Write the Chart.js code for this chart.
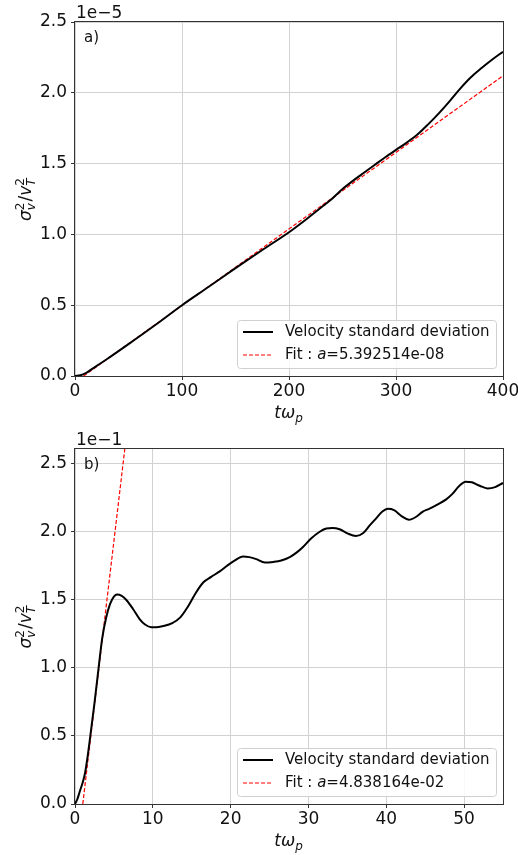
<!DOCTYPE html>
<html>
<head>
<meta charset="utf-8">
<script src="https://cdn.jsdelivr.net/npm/chart.js@4.4.1/dist/chart.umd.min.js"></script>
<style>
  body { margin: 0; background: #fff; width: 518px; height: 855px; overflow: hidden; }
  canvas { position: absolute; left: 0; }
  #chartA { top: 0; }
  #chartB { top: 430px; }
</style>
</head>
<body>
<canvas id="chartA" width="518" height="430"></canvas>
<canvas id="chartB" width="518" height="425"></canvas>
<script>
// --- data (y values shown in units of the axis offset) ---
const timeA = [0, 5, 10, 15, 20, 30, 50, 75, 100, 125, 150, 175, 200, 215, 230, 240, 250, 260, 270, 280, 290, 300, 310, 320, 330, 340, 350, 360, 370, 380, 390, 400];
const sigmaA = [0, 0.005, 0.02, 0.045, 0.07, 0.12, 0.225, 0.36, 0.5, 0.63, 0.762, 0.89, 1.015, 1.10, 1.19, 1.25, 1.32, 1.38, 1.435, 1.49, 1.545, 1.597, 1.648, 1.705, 1.777, 1.855, 1.94, 2.03, 2.11, 2.175, 2.235, 2.29];
const fitTimeA = [8, 400];
const fitA = [0, 2.12];

const timeB = [0, 0.3, 0.6, 1.0, 1.3, 1.6, 1.9, 2.5, 3.0, 3.5, 4.0, 4.5, 5.0, 5.4, 6.0, 6.6, 7.5, 8.3, 9.0, 9.8, 10.5, 11.5, 12.5, 13.5, 14.5, 15.5, 16.5, 17.5, 18.6, 19.5, 20.5, 21.6, 22.4, 23.3, 24.4, 25.5, 26.5, 27.6, 28.5, 29.3, 30.3, 31.4, 32.3, 33.1, 34.0, 35.0, 36.1, 37.0, 37.9, 38.7, 39.5, 40.2, 41.0, 42.0, 42.9, 43.8, 44.7, 45.5, 46.5, 47.7, 48.5, 49.4, 50.2, 51.0, 52.0, 53.0, 54.0, 55.0];
const sigmaB = [0, 0.035, 0.09, 0.16, 0.23, 0.34, 0.47, 0.74, 0.985, 1.22, 1.37, 1.47, 1.525, 1.54, 1.53, 1.50, 1.43, 1.36, 1.32, 1.30, 1.30, 1.31, 1.33, 1.37, 1.45, 1.55, 1.63, 1.67, 1.71, 1.75, 1.79, 1.82, 1.815, 1.80, 1.775, 1.78, 1.79, 1.815, 1.85, 1.89, 1.95, 2.00, 2.025, 2.03, 2.02, 1.99, 1.97, 1.99, 2.05, 2.10, 2.15, 2.17, 2.16, 2.115, 2.09, 2.11, 2.15, 2.17, 2.20, 2.24, 2.28, 2.34, 2.37, 2.365, 2.34, 2.32, 2.33, 2.36];
const fitTimeB = [1.0, 6.4];
const fitB = [0, 2.61];

const yTicks = [0, 0.5, 1.0, 1.5, 2.0, 2.5];
const xTicksA = [0, 100, 200, 300, 400];
const xTicksB = [0, 10, 20, 30, 40, 50];

const FONT = "'DejaVu Sans', sans-serif";

function pts(xs, ys) {
    return xs.map((x, i) => ({ x: x, y: ys[i] }));
}

// draw a run of text pieces; {t} normal, {t, it} italic, {sup, sub} stacked scripts
function mathWidth(ctx, parts, size) {
    let w = 0;
    parts.forEach(p => {
        if (p.t !== undefined) {
            ctx.font = (p.it ? 'italic ' : '') + size + 'px ' + FONT;
            w += ctx.measureText(p.t).width;
        } else {
            ctx.font = 'italic ' + Math.round(size * 0.7) + 'px ' + FONT;
            w += Math.max(ctx.measureText(p.sup || '').width, ctx.measureText(p.sub || '').width) + 1;
        }
    });
    return w;
}

function drawMath(ctx, cx, cy, parts, size) {
    let x = cx - mathWidth(ctx, parts, size) / 2;
    ctx.textBaseline = 'alphabetic';
    ctx.textAlign = 'left';
    const base = cy + size * 0.36;
    parts.forEach(p => {
        if (p.t !== undefined) {
            ctx.font = (p.it ? 'italic ' : '') + size + 'px ' + FONT;
            ctx.fillText(p.t, x, base);
            x += ctx.measureText(p.t).width;
        } else {
            const s = Math.round(size * 0.7);
            let w = 0;
            if (p.sup) {
                ctx.font = s + 'px ' + FONT;
                ctx.fillText(p.sup, x, base - size * 0.42);
                w = ctx.measureText(p.sup).width;
            }
            if (p.sub) {
                ctx.font = 'italic ' + s + 'px ' + FONT;
                ctx.fillText(p.sub, x, base + size * 0.22);
                w = Math.max(w, ctx.measureText(p.sub).width);
            }
            x += w + 1;
        }
    });
}

const yTitle = [{ t: 'σ', it: true }, { sup: '2', sub: 'v' }, { t: '/' }, { t: 'v', it: true }, { sup: '2', sub: 'T' }];
const xTitle = [{ t: 'tω', it: true }, { sub: 'p' }];

// frame, panel label, offset text, axis titles and the legend box
const decor = {
    id: 'decor',
    afterDatasetsDraw(chart, args, opts) {
        const ctx = chart.ctx;
        const a = chart.chartArea;
        ctx.save();
        ctx.strokeStyle = '#333';
        ctx.lineWidth = 1;
        ctx.strokeRect(Math.round(a.left) - 0.5, Math.round(a.top) - 0.5, Math.round(a.right - a.left) + 1, Math.round(a.bottom - a.top) + 1);

        ctx.fillStyle = '#111';
        ctx.font = '15px ' + FONT;
        ctx.textBaseline = 'middle';
        ctx.textAlign = 'left';
        ctx.fillText(opts.panel, a.left + 9, a.top + 16);

        ctx.font = '17px ' + FONT;
        ctx.textBaseline = 'alphabetic';
        ctx.fillText(opts.offset, a.left + 1, a.top - 4);

        drawMath(ctx, (a.left + a.right) / 2, a.bottom + 36, xTitle, 17);

        ctx.save();
        ctx.translate(25, (a.top + a.bottom) / 2);
        ctx.rotate(-Math.PI / 2);
        drawMath(ctx, 0, 0, yTitle, 17);
        ctx.restore();

        // legend
        const lw = 259, lh = 48;
        const lx = a.right - 7 - lw, ly = a.bottom - 8 - lh;
        ctx.beginPath();
        ctx.roundRect(lx + 0.5, ly + 0.5, lw, lh, 3);
        ctx.fillStyle = 'rgba(255,255,255,0.85)';
        ctx.fill();
        ctx.strokeStyle = '#d0d0d0';
        ctx.stroke();

        const r1 = ly + 12, r2 = ly + 35;
        ctx.beginPath();
        ctx.strokeStyle = '#000';
        ctx.lineWidth = 2;
        ctx.moveTo(lx + 6, r1);
        ctx.lineTo(lx + 36, r1);
        ctx.stroke();
        ctx.beginPath();
        ctx.strokeStyle = '#ff0000';
        ctx.lineWidth = 1.2;
        ctx.setLineDash([4, 2]);
        ctx.moveTo(lx + 6, r2);
        ctx.lineTo(lx + 36, r2);
        ctx.stroke();
        ctx.setLineDash([]);

        ctx.fillStyle = '#111';
        ctx.font = '15px ' + FONT;
        ctx.textBaseline = 'middle';
        ctx.fillText('Velocity standard deviation', lx + 48, r1);
        let tx = lx + 48;
        ctx.fillText('Fit : ', tx, r2);
        tx += ctx.measureText('Fit : ').width;
        ctx.font = 'italic 15px ' + FONT;
        ctx.fillText('a', tx, r2);
        tx += ctx.measureText('a').width;
        ctx.font = '15px ' + FONT;
        ctx.fillText('=' + opts.fitValue, tx, r2);
        ctx.restore();
    }
};

function makeChart(id, cfg) {
    const axisH = cfg.canvasH - cfg.bottom;
    return new Chart(document.getElementById(id), {
        type: 'line',
        data: {
            datasets: [{
                label: 'Velocity standard deviation',
                data: pts(cfg.t, cfg.y),
                borderColor: '#000',
                borderWidth: 2,
                pointRadius: 0,
                cubicInterpolationMode: 'monotone',
                fill: false
            }, {
                label: 'Fit',
                data: pts(cfg.fitT, cfg.fitY),
                borderColor: '#ff0000',
                borderWidth: 1.2,
                borderDash: [4, 2],
                pointRadius: 0,
                fill: false
            }]
        },
        options: {
            responsive: false,
            animation: false,
            devicePixelRatio: 1,
            layout: { padding: { top: cfg.top, right: 15, left: 0, bottom: 0 } },
            plugins: {
                legend: { display: false },
                tooltip: { enabled: false },
                decor: { panel: cfg.panel, offset: cfg.offset, fitValue: cfg.fitValue }
            },
            scales: {
                x: {
                    type: 'linear',
                    min: 0,
                    max: cfg.xMax,
                    afterBuildTicks: s => { s.ticks = cfg.xTicks.map(v => ({ value: v })); },
                    afterFit: s => { s.height = axisH; s.paddingLeft = 0; s.paddingRight = 0; },
                    ticks: { font: { family: FONT, size: 17 }, color: '#111', padding: 1, maxRotation: 0 },
                    grid: { color: '#d2d2d2', lineWidth: 1, tickColor: '#333', tickLength: 4 },
                    border: { display: false }
                },
                y: {
                    min: 0,
                    max: cfg.yMax,
                    afterBuildTicks: s => { s.ticks = yTicks.map(v => ({ value: v })); },
                    afterFit: s => { s.width = 75; s.paddingTop = 0; s.paddingBottom = 0; },
                    ticks: { font: { family: FONT, size: 17 }, color: '#111', padding: 4, callback: v => v.toFixed(1) },
                    grid: { color: '#d2d2d2', lineWidth: 1, tickColor: '#333', tickLength: 4 },
                    border: { display: false }
                }
            }
        },
        plugins: [decor]
    });
}

makeChart('chartA', {
    t: timeA, y: sigmaA, fitT: fitTimeA, fitY: fitA,
    xMax: 400, yMax: 2.5, xTicks: xTicksA,
    top: 22, bottom: 376, canvasH: 430,
    panel: 'a)', offset: '1e\u22125', fitValue: '5.392514e-08'
});

makeChart('chartB', {
    t: timeB, y: sigmaB, fitT: fitTimeB, fitY: fitB,
    xMax: 55, yMax: 2.61, xTicks: xTicksB,
    top: 19, bottom: 374, canvasH: 425,
    panel: 'b)', offset: '1e\u22121', fitValue: '4.838164e-02'
});
</script>
</body>
</html>
